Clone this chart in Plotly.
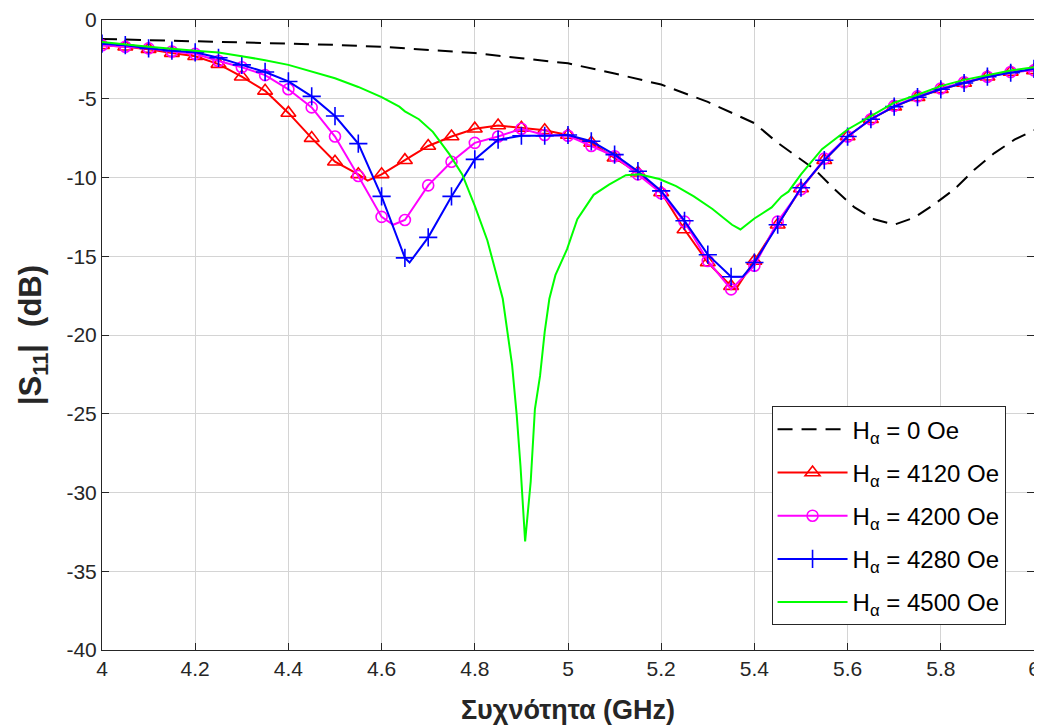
import plotly.graph_objects as go

# ---------------- data ----------------
freq_0 = [4.00, 4.10, 4.20, 4.30, 4.40, 4.50, 4.60, 4.70, 4.80, 4.90, 5.00, 5.10, 5.20, 5.30,
          5.40, 5.45, 5.49, 5.53, 5.572, 5.615, 5.657, 5.70, 5.743, 5.786, 5.829, 5.872,
          5.915, 5.958, 6.00]
s11_0 = [-1.2, -1.27, -1.33, -1.4, -1.48, -1.58, -1.7, -1.9, -2.1, -2.43, -2.75, -3.4, -4.1, -5.2,
         -6.55, -7.8, -8.65, -9.5, -10.75, -11.9, -12.65, -13.0, -12.55, -11.7, -10.75, -9.5,
         -8.45, -7.6, -7.0]

freq_4120 = [4.00, 4.05, 4.10, 4.15, 4.20, 4.25, 4.30, 4.35, 4.40, 4.45, 4.50, 4.55, 4.57, 4.60,
             4.65, 4.70, 4.75, 4.80, 4.85, 4.90, 4.95, 5.00, 5.05, 5.10, 5.15, 5.20, 5.25, 5.30,
             5.35, 5.36, 5.40, 5.45, 5.50, 5.55, 5.60, 5.65, 5.70, 5.75, 5.80, 5.85, 5.90, 5.95, 6.00]
s11_4120 = [-1.6, -1.7, -1.85, -2.1, -2.3, -2.8, -3.6, -4.5, -5.9, -7.5, -9.0, -9.8, -10.2, -9.8,
            -8.9, -8.0, -7.4, -6.9, -6.7, -6.85, -7.0, -7.3, -7.8, -8.75, -9.7, -10.95, -13.3, -15.4,
            -16.9, -17.1, -15.3, -13.0, -10.7, -8.9, -7.4, -6.3, -5.5, -4.9, -4.4, -4.0, -3.6, -3.3, -3.2]

freq_4200 = [4.00, 4.05, 4.10, 4.15, 4.20, 4.25, 4.30, 4.35, 4.40, 4.45, 4.50, 4.55, 4.60, 4.625,
             4.65, 4.70, 4.75, 4.80, 4.85, 4.90, 4.95, 5.00, 5.05, 5.10, 5.15, 5.20, 5.25, 5.30,
             5.35, 5.40, 5.45, 5.50, 5.55, 5.60, 5.65, 5.70, 5.75, 5.80, 5.85, 5.90, 5.95, 6.00]
s11_4200 = [-1.6, -1.7, -1.8, -2.0, -2.15, -2.6, -3.0, -3.5, -4.4, -5.55, -7.4, -9.9, -12.5, -13.0,
            -12.7, -10.5, -9.0, -7.8, -7.4, -6.9, -7.3, -7.35, -8.0, -8.65, -9.8, -11.0, -12.8, -15.3,
            -17.1, -15.6, -12.8, -10.75, -8.8, -7.4, -6.3, -5.45, -4.85, -4.35, -3.95, -3.6, -3.3, -3.2]

freq_4280 = [4.00, 4.05, 4.10, 4.15, 4.20, 4.25, 4.30, 4.35, 4.40, 4.45, 4.50, 4.55, 4.60, 4.65,
             4.66, 4.70, 4.75, 4.80, 4.85, 4.90, 4.95, 5.00, 5.05, 5.10, 5.15, 5.20, 5.25, 5.30,
             5.35, 5.375, 5.40, 5.45, 5.50, 5.55, 5.60, 5.65, 5.70, 5.75, 5.80, 5.85, 5.90, 5.95, 6.00]
s11_4280 = [-1.5, -1.6, -1.8, -1.95, -2.05, -2.4, -2.85, -3.3, -3.9, -4.85, -6.1, -7.85, -11.2, -15.1,
            -15.4, -13.8, -11.2, -8.85, -7.6, -7.35, -7.35, -7.3, -7.7, -8.55, -9.6, -10.85, -12.75, -14.9,
            -16.3, -16.3, -15.4, -13.0, -10.65, -8.9, -7.4, -6.3, -5.5, -4.9, -4.4, -4.0, -3.6, -3.35, -3.1]

freq_4500 = [4.00, 4.10, 4.20, 4.25, 4.30, 4.35, 4.40, 4.45, 4.50, 4.55, 4.60, 4.638, 4.65, 4.68,
             4.71, 4.745, 4.773, 4.80, 4.827, 4.845, 4.86, 4.87, 4.88, 4.89, 4.898, 4.908, 4.92,
             4.929, 4.94, 4.95, 4.96, 4.973, 4.998, 5.02, 5.055, 5.088, 5.124, 5.153, 5.196, 5.232,
             5.27, 5.31, 5.352, 5.37, 5.40, 5.437, 5.458, 5.473, 5.50, 5.545, 5.60, 5.65, 5.70,
             5.75, 5.80, 5.85, 5.90, 5.95, 6.00]
s11_4500 = [-1.4, -1.7, -1.95, -2.07, -2.3, -2.55, -2.85, -3.3, -3.7, -4.25, -4.9, -5.5, -5.8, -6.3,
            -7.1, -8.5, -9.8, -11.8, -14.0, -16.0, -17.7, -19.8, -21.9, -25.1, -28.3, -33.1, -29.3,
            -24.7, -22.6, -19.8, -17.7, -16.2, -14.55, -12.65, -11.1, -10.45, -9.85, -9.8, -10.1, -10.55,
            -11.2, -12.0, -13.0, -13.3, -12.6, -11.9, -11.2, -10.9, -9.8, -8.2, -6.95, -6.1, -5.25,
            -4.75, -4.2, -3.8, -3.5, -3.2, -3.0]

x_ticks = [4.0, 4.2, 4.4, 4.6, 4.8, 5.0, 5.2, 5.4, 5.6, 5.8, 6.0]
x_tick_text = ["4", "4.2", "4.4", "4.6", "4.8", "5", "5.2", "5.4", "5.6", "5.8", "6"]
y_ticks = [0, -5, -10, -15, -20, -25, -30, -35, -40]
y_tick_text = ["0", "-5", "-10", "-15", "-20", "-25", "-30", "-35", "-40"]

names = ["H<sub>α</sub> = 0 Oe", "H<sub>α</sub> = 4120 Oe", "H<sub>α</sub> = 4200 Oe",
         "H<sub>α</sub> = 4280 Oe", "H<sub>α</sub> = 4500 Oe"]

# ---------------- figure ----------------
FONT = "Liberation Sans, Arial, Helvetica, sans-serif"
TXT = "#262626"
fig = go.Figure()


def on_marker_grid(x):
    return abs(x * 20 - round(x * 20)) < 1e-6


def add_series(xs, ys, color, name, group, symbol=None, msize=10, dash="solid"):
    fig.add_trace(go.Scatter(x=xs, y=ys, mode="lines", line=dict(color=color, width=2, dash=dash),
                             showlegend=False, legendgroup=group, hoverinfo="skip"))
    if symbol:
        mx = [x for x in xs if on_marker_grid(x)]
        my = [y for x, y in zip(xs, ys) if on_marker_grid(x)]
        fig.add_trace(go.Scatter(x=mx, y=my, mode="markers",
                                 marker=dict(symbol=symbol, size=msize, color=color,
                                             line=dict(color=color, width=1.6)),
                                 showlegend=False, legendgroup=group))
    fig.add_trace(go.Scatter(x=[None], y=[None], mode="lines+markers" if symbol else "lines",
                             line=dict(color=color, width=2, dash=dash),
                             marker=dict(symbol=symbol or "circle", size=msize, color=color,
                                         line=dict(color=color, width=1.6)),
                             name=name, legendgroup=group, showlegend=True))


add_series(freq_0, s11_0, "#000000", names[0], "g0", dash="15px,9px")
add_series(freq_4120, s11_4120, "#FF0000", names[1], "g1", symbol="triangle-up-open", msize=13)
add_series(freq_4200, s11_4200, "#FF00FF", names[2], "g2", symbol="circle-open", msize=11)
add_series(freq_4280, s11_4280, "#0000FF", names[3], "g3", symbol="cross-thin-open", msize=13)
add_series(freq_4500, s11_4500, "#00FF00", names[4], "g4")

axis_common = dict(showline=True, linecolor=TXT, linewidth=1, mirror="ticks", ticks="inside",
                   ticklen=7, tickcolor=TXT, showgrid=True, gridcolor="#d4d4d4", gridwidth=1,
                   zeroline=False, ticklabeloverflow="allow",
                   tickfont=dict(family=FONT, size=21, color=TXT))

fig.update_layout(
    width=1034, height=717,
    margin=dict(l=94, r=8, t=12, b=75),
    paper_bgcolor="white", plot_bgcolor="white",
    font=dict(family=FONT, color=TXT),
    xaxis=dict(range=[4, 6], tickvals=x_ticks, ticktext=x_tick_text, automargin=False,
               title=dict(text="<b>Συχνότητα (GHz)</b>", font=dict(family=FONT, size=27, color=TXT),
                          standoff=20),
               **axis_common),
    yaxis=dict(range=[-40, 0], tickvals=y_ticks, ticktext=y_tick_text, automargin="left",
               title=dict(text="<b>|S<sub>11</sub>|  (dB)</b>", font=dict(family=FONT, size=31, color=TXT),
                          standoff=15),
               **axis_common),
    legend=dict(x=0.7184, y=0.387, xanchor="left", yanchor="top",
                bgcolor="white", bordercolor=TXT, borderwidth=1,
                font=dict(family=FONT, size=24, color="#000000"),
                itemwidth=70, traceorder="grouped", tracegroupgap=9),
    showlegend=True,
)

fig.write_html("out.html")
